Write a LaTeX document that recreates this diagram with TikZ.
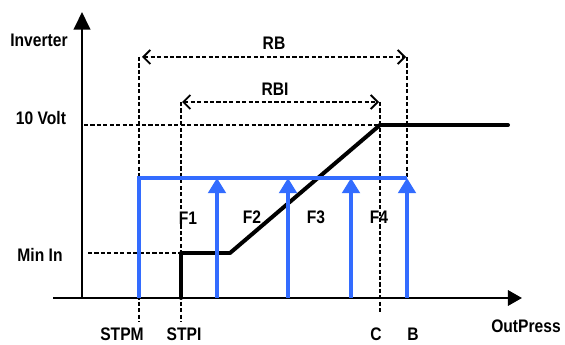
\documentclass[tikz,border=0pt]{standalone}
\usepackage{fontspec}
\setmainfont{Liberation Sans}[FakeStretch=0.86]
\usepackage{tikz}
\usetikzlibrary{arrows.meta}

\definecolor{blueline}{RGB}{51,108,255}

\begin{document}
\begin{tikzpicture}[x=0.03cm,y=-0.03cm,>=Triangle,
    font=\fontsize{15.5}{17}\selectfont\bfseries,
    axis/.style={line width=2.2pt},
    guide/.style={line width=1.6pt,dash pattern=on 3.5pt off 2pt},
    span/.style={guide,{Straight Barb[length=6pt,width=12pt,line width=1.6pt]}-{Straight Barb[length=6pt,width=12pt,line width=1.6pt]}},
    curve/.style={line width=3.4pt,line cap=round,line join=round},
    force/.style={line width=3pt,draw=blueline,-{Triangle[length=13pt,width=15pt]}},
    lbl/.style={inner sep=0pt}]
    \useasboundingbox (0,0) rectangle (565,345);

    % Define positions on the OutPress axis
    \def\xstpm{139}
    \def\xstpi{181}
    \def\xc{380}
    \def\xb{407}
    \def\yrb{57}
    \def\yrbi{102}
    \def\ymax{125}
    \def\yforce{178}
    \def\ymin{253}
    \def\yzero{298}

    % Draw axes
    \coordinate (origin) at (82,\yzero);
    \coordinate (ytip) at (82,12);
    \coordinate (xstart) at (53,\yzero);
    \coordinate (xtip) at (522,\yzero);
    \draw[axis,-{Triangle[length=15pt,width=14pt]}] (origin) -- (ytip);
    \draw[axis,-{Triangle[length=12pt,width=13pt]}] (xstart) -- (xtip);

    % Axis labels
    \node[lbl] (inverter) at (39,40) {Inverter};
    \node[lbl] (volt) at (41,118) {10 Volt};
    \node[lbl] (minin) at (40,255) {Min In};
    \node[lbl] (outpress) at (526,326) {OutPress};
    \node[lbl] (stpm) at (122,334) {STPM};
    \node[lbl] (stpi) at (184,334) {STPI};
    \node[lbl] (c) at (376,334) {C};
    \node[lbl] (b) at (413,334) {B};

    % Draw guide lines
    \draw[guide] (\xstpm,\yrb) -- (\xstpm,322);
    \draw[guide] (\xstpi,\yrbi) -- (\xstpi,322);
    \draw[guide] (\xc,\yrbi) -- (\xc,314);
    \draw[guide] (\xb,\yrb) -- (\xb,\yforce);
    \draw[guide] (84,\ymax) -- (\xc,\ymax);
    \draw[guide] (88,\ymin) -- (\xstpi,\ymin);

    % Draw ranges RB and RBI
    \coordinate (rbl) at (142,\yrb);
    \coordinate (rbr) at (406,\yrb);
    \coordinate (rbil) at (182,\yrbi);
    \coordinate (rbir) at (379,\yrbi);
    \draw[span] (rbl) -- (rbr);
    \draw[span] (rbil) -- (rbir);
    \node[lbl] (rb) at (274,43) {RB};
    \node[lbl] (rbi) at (275,89) {RBI};

    % Draw inverter curve
    \coordinate (p0) at (\xstpi,\yzero);
    \coordinate (p1) at (\xstpi,\ymin);
    \coordinate (p2) at (230,\ymin);
    \coordinate (p3) at (\xc,\ymax);
    \coordinate (p4) at (508,\ymax);
    \draw[curve] (p0) -- (p1) -- (p2) -- (p3) -- (p4);

    % Draw blue frame and forces
    \draw[line width=3pt,draw=blueline,line join=miter] (\xstpm,\yzero) -- (\xstpm,\yforce) -- (\xb,\yforce);
    \foreach \x in {217,288,351,407}
        \draw[force] (\x,\yzero) -- (\x,\yforce);

    % Force labels
    \node[lbl] (f1) at (188,218) {F1};
    \node[lbl] (f2) at (252,217) {F2};
    \node[lbl] (f3) at (316,217) {F3};
    \node[lbl] (f4) at (379,217) {F4};

\end{tikzpicture}
\end{document}
